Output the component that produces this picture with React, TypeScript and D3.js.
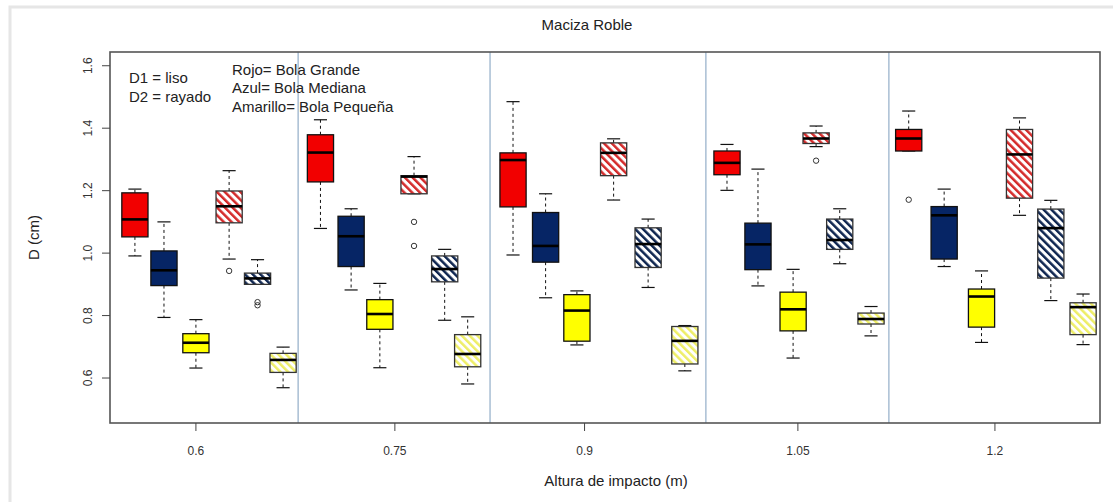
import React from "react";
import * as d3 from "d3";

// Impact heights (m) and where each group sits on the slot axis
const heights = ["0.6", "0.75", "0.9", "1.05", "1.2"];
const heightTickAt = [2.69, 8.92, 14.86, 21.54, 27.71];
const dividerAt = [5.89, 11.9, 18.66, 24.39];

// Box slots per height: rojo D1, azul D1, amarillo D1, rojo D2, azul D2, amarillo D2
const boxAt = [
  [0.78, 1.69, 2.69, 3.73, 4.62, 5.42],
  [6.59, 7.55, 8.45, 9.52, 10.48, 11.2],
  [12.62, 13.64, 14.62, 15.77, 16.85, 18.0],
  [19.32, 20.29, 21.39, 22.11, 22.85, 23.83],
  [25.01, 26.12, 27.29, 28.48, 29.46, 30.47],
];

// Five-number summaries [low whisker, Q1, median, Q3, high whisker] in cm, one per height
const rojoD1 = [
  [0.991, 1.052, 1.108, 1.193, 1.205],
  [1.079, 1.228, 1.322, 1.379, 1.427],
  [0.994, 1.148, 1.298, 1.321, 1.485],
  [1.201, 1.251, 1.289, 1.327, 1.348],
  [1.327, 1.327, 1.367, 1.396, 1.455],
];
const azulD1 = [
  [0.794, 0.896, 0.945, 1.007, 1.1],
  [0.882, 0.957, 1.054, 1.118, 1.142],
  [0.857, 0.971, 1.023, 1.13, 1.19],
  [0.895, 0.947, 1.028, 1.096, 1.269],
  [0.957, 0.981, 1.121, 1.149, 1.205],
];
const amarilloD1 = [
  [0.632, 0.681, 0.713, 0.742, 0.787],
  [0.633, 0.756, 0.805, 0.851, 0.903],
  [0.706, 0.718, 0.816, 0.867, 0.879],
  [0.664, 0.751, 0.82, 0.875, 0.948],
  [0.714, 0.763, 0.861, 0.885, 0.943],
];
const rojoD2 = [
  [0.981, 1.097, 1.15, 1.199, 1.264],
  [1.19, 1.19, 1.245, 1.248, 1.309],
  [1.17, 1.248, 1.321, 1.353, 1.366],
  [1.341, 1.351, 1.367, 1.385, 1.407],
  [1.121, 1.176, 1.316, 1.396, 1.433],
];
const azulD2 = [
  [0.9, 0.9, 0.919, 0.936, 0.979],
  [0.785, 0.908, 0.949, 0.991, 1.012],
  [0.89, 0.954, 1.029, 1.081, 1.109],
  [0.966, 1.012, 1.042, 1.109, 1.142],
  [0.848, 0.92, 1.08, 1.141, 1.169],
];
const amarilloD2 = [
  [0.569, 0.618, 0.658, 0.679, 0.699],
  [0.581, 0.636, 0.677, 0.739, 0.796],
  [0.623, 0.645, 0.719, 0.765, 0.768],
  [0.735, 0.773, 0.789, 0.808, 0.829],
  [0.707, 0.739, 0.827, 0.841, 0.869],
];

// Outlying observations, per height
const rojoD1Out = [[], [], [], [], [1.171]];
const azulD1Out = [[], [], [], [], []];
const amarilloD1Out = [[], [], [], [], []];
const rojoD2Out = [[0.943], [1.1, 1.023], [], [1.296], []];
const azulD2Out = [[0.843, 0.833], [], [], [], []];
const amarilloD2Out = [[], [], [], [], []];

const yTicks = [0.6, 0.8, 1.0, 1.2, 1.4, 1.6];

type SeriesDef = { key: string; stats: number[][]; out: number[][]; ball: string; hatched: boolean };

const series: SeriesDef[] = [
  { key: "rojoD1", stats: rojoD1, out: rojoD1Out, ball: "rojo", hatched: false },
  { key: "azulD1", stats: azulD1, out: azulD1Out, ball: "azul", hatched: false },
  { key: "amarilloD1", stats: amarilloD1, out: amarilloD1Out, ball: "amarillo", hatched: false },
  { key: "rojoD2", stats: rojoD2, out: rojoD2Out, ball: "rojo", hatched: true },
  { key: "azulD2", stats: azulD2, out: azulD2Out, ball: "azul", hatched: true },
  { key: "amarilloD2", stats: amarilloD2, out: amarilloD2Out, ball: "amarillo", hatched: true },
];

const fillColor: Record<string, string> = {
  rojo: "#f20000",
  azul: "#062565",
  amarillo: "#ffff00",
};
const hatchColor: Record<string, string> = {
  rojo: "#d42a2a",
  azul: "#0e2550",
  amarillo: "#eeee66",
};

const W = 1113;
const H = 502;
const plot = { left: 110, right: 1100, top: 52, bottom: 423 };
const FONT = "'Liberation Sans', Arial, sans-serif";

export default function App() {
  const x = d3.scaleLinear().domain([0, 31]).range([plot.left, plot.right]);
  const y = d3.scaleLinear().domain([0.456, 1.644]).range([plot.bottom, plot.top]);
  const boxW = x(0.82) - x(0);
  const capW = boxW / 2;

  const boxes: JSX.Element[] = [];
  heights.forEach((_, gi) => {
    series.forEach((s, si) => {
      const [lo, q1, med, q3, hi] = s.stats[gi];
      const cx = x(boxAt[gi][si]);
      const fill = s.hatched ? `url(#hatch-${s.ball})` : fillColor[s.ball];
      const stroke = s.hatched ? "#333" : "#111";
      boxes.push(
        <g key={`${s.key}-${gi}`}>
          <line x1={cx} x2={cx} y1={y(q3)} y2={y(hi)} stroke="#111" strokeWidth={1} strokeDasharray="3,3" />
          <line x1={cx} x2={cx} y1={y(q1)} y2={y(lo)} stroke="#111" strokeWidth={1} strokeDasharray="3,3" />
          <line x1={cx - capW / 2} x2={cx + capW / 2} y1={y(hi)} y2={y(hi)} stroke="#111" strokeWidth={1.2} />
          <line x1={cx - capW / 2} x2={cx + capW / 2} y1={y(lo)} y2={y(lo)} stroke="#111" strokeWidth={1.2} />
          <rect
            x={cx - boxW / 2}
            y={y(q3)}
            width={boxW}
            height={y(q1) - y(q3)}
            fill={fill}
            stroke={stroke}
            strokeWidth={1.3}
          />
          <line x1={cx - boxW / 2} x2={cx + boxW / 2} y1={y(med)} y2={y(med)} stroke="#000" strokeWidth={2.6} />
          {s.out[gi].map((v, oi) => (
            <circle key={oi} cx={cx} cy={y(v)} r={2.7} fill="none" stroke="#333" strokeWidth={1} />
          ))}
        </g>
      );
    });
  });

  return (
    <svg
      width={W}
      height={H}
      style={{ position: "absolute", left: 0, top: 0, background: "#fff" }}
      fontFamily={FONT}
    >
      <defs>
        {Object.keys(hatchColor).map((b) => (
          <pattern
            key={b}
            id={`hatch-${b}`}
            patternUnits="userSpaceOnUse"
            width={5.5}
            height={5.5}
            patternTransform="rotate(-45)"
          >
            <rect width={5.5} height={5.5} fill="#fff" />
            <rect x={0} y={0} width={2.5} height={5.5} fill={hatchColor[b]} />
          </pattern>
        ))}
      </defs>

      <rect x={10} y={7} width={1200} height={600} fill="none" stroke="#e6e6e6" strokeWidth={3} />

      {/* title */}
      <text x={587} y={30} textAnchor="middle" fontSize={15} fill="#222">
        Maciza Roble
      </text>

      {/* group dividers */}
      {dividerAt.map((d, i) => (
        <line key={i} x1={x(d)} x2={x(d)} y1={plot.top} y2={plot.bottom} stroke="#7d9dbd" strokeWidth={1} />
      ))}

      {boxes}

      {/* frame */}
      <rect
        x={plot.left}
        y={plot.top}
        width={plot.right - plot.left}
        height={plot.bottom - plot.top}
        fill="none"
        stroke="#555"
        strokeWidth={1.6}
      />

      {/* y axis */}
      {yTicks.map((t) => (
        <g key={t} transform={`translate(${plot.left},${y(t)})`}>
          <line x1={-8} x2={0} stroke="#444" strokeWidth={1} />
          <text transform="translate(-22,0) rotate(-90)" textAnchor="middle" dy="0.35em" fontSize={12} fill="#333">
            {t.toFixed(1)}
          </text>
        </g>
      ))}
      <text transform={`translate(34,${(plot.top + plot.bottom) / 2}) rotate(-90)`} textAnchor="middle" dy="0.35em" fontSize={15} fill="#222">
        D (cm)
      </text>

      {/* x axis */}
      {heights.map((h, i) => (
        <g key={h} transform={`translate(${x(heightTickAt[i])},${plot.bottom})`}>
          <line y1={0} y2={8} stroke="#444" strokeWidth={1} />
          <text y={32} textAnchor="middle" fontSize={12} fill="#333">
            {h}
          </text>
        </g>
      ))}
      <text x={616} y={486} textAnchor="middle" fontSize={15} fill="#222">
        Altura de impacto (m)
      </text>

      {/* key */}
      <g fontSize={15} fill="#222" style={{ whiteSpace: "pre" }}>
        <text x={129} y={83}>D1 = liso</text>
        <text x={129} y={101.5}>D2 = rayado</text>
        <text x={232} y={75}>Rojo= Bola Grande</text>
        <text x={232} y={93}>Azul=  Bola Mediana</text>
        <text x={232} y={111.5}>Amarillo= Bola Pequeña</text>
      </g>
    </svg>
  );
}
